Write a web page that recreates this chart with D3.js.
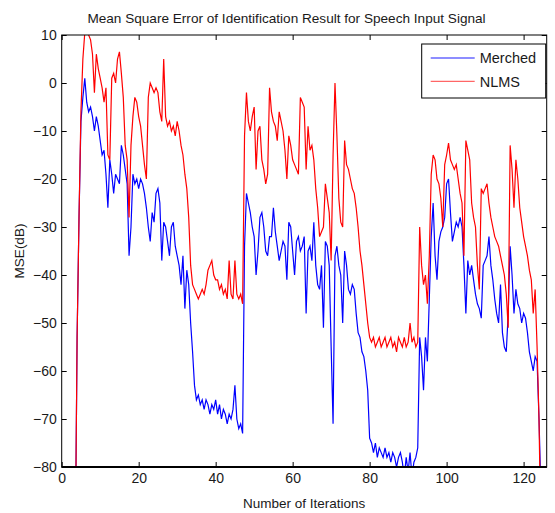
<!DOCTYPE html>
<meta charset="utf-8">
<style>

body { margin: 0; background: #fff; }
text { font-family: "Liberation Sans", Arial, sans-serif; fill: #1a1a1a; }
.line { fill: none; stroke-width: 1.2px; }
.axis text { font-size: 14px; }
.axis line { stroke: #000; }

</style>
<svg width="555" height="513"></svg>
<script src="https://cdn.jsdelivr.net/npm/d3@7/dist/d3.min.js"></script>
<script>

// samples every half iteration, first one at 3.5
var firstIter = 3.5, iterStep = 0.5;

var merched = [
  -100,
  -53, -28, -8, -3, 1, -4, -6, -5, -7, -10,
  -7, -9, -12, -15, -14, -19, -26, -16, -19, -23,
  -19, -20, -21, -13, -15, -18, -21, -36, -30, -19,
  -21, -20, -22, -20, -21, -23, -26, -30, -33, -27,
  -29, -23, -22, -25, -37, -29, -30, -33, -36, -30,
  -29, -34, -36, -38, -42, -36, -47, -39, -42, -50,
  -56, -63, -66, -65, -67, -66, -68, -66, -67, -69,
  -67, -68, -66, -69, -67, -70, -68, -69, -71, -69,
  -70, -68, -63, -70, -72, -71, -73, -34, -23, -25,
  -27, -30, -32, -40, -35, -28, -27, -30, -35, -36,
  -32, -32, -26, -31, -34, -37, -35, -33, -34, -41,
  -29, -30, -35, -40, -33, -32, -35, -34, -32, -48,
  -35, -34, -37, -29, -38, -42, -43, -38, -51, -33,
  -34, -38, -55, -71, -36, -34, -38, -40, -50, -35,
  -38, -43, -44, -42, -43, -48, -52, -53, -56, -57,
  -60, -64, -74, -75, -77, -75, -78, -76, -77, -78,
  -76, -78, -77, -79, -77, -78, -80, -78, -77, -79,
  -82, -78, -81, -77, -82, -79, -78, -76, -53, -57,
  -64, -53, -58, -45, -32, -25, -36, -41, -33, -31,
  -30, -28, -21, -20, -27, -33, -31, -29, -30, -28,
  -30, -38, -48, -37, -40, -38, -41, -44, -46, -47,
  -49, -38, -37, -36, -32, -38, -41, -45, -48, -50,
  -42, -52, -55, -56, -48, -34, -40, -48, -43, -46,
  -47, -50, -48, -49, -52, -56, -58, -60, -57, -58,
  -70, -85, -100
];

var nlms = [
  -100,
  -53, -28, -6, 5, 10.5, 11, 10, 9, 6, -2,
  6, 3, 1, -1, -4, -1, -15, -16, 1, 2,
  0, 5, 6.5, 2, -3, -13, -16, -28, -13, -7,
  -3, -4, -7, -9, -13, -17, -20, -3, 0, -1,
  -2, -1, -2, -6, -8, 5, -7, -9, -8, -10,
  -9, -11, -8, -10, -13, -15, -19, -22, -28, -38,
  -42, -43, -44, -45, -44, -43, -44, -42, -39, -38,
  -37, -40, -41, -41, -43, -42, -44, -43, -45, -37,
  -44, -45, -37, -44, -45, -44, -46, -11, -2, -8,
  -10, -7, -5, -18, -10, -9, -16, -18, -21, -19,
  -1, -6, -8, -9, -12, -6, -8, -10, -14, -20,
  -11, -13, -16, -17, -18, -19, -3, -4, -5, -18,
  -9, -14, -13, -16, -22, -26, -32, -31, -30, -21,
  -24, -27, -37, -15, 0, -11, -24, -29, -30, -12,
  -17, -18, -20, -22, -23, -26, -30, -35, -38, -42,
  -46, -50, -53, -54, -53, -55, -54, -53, -55, -54,
  -53, -55, -54, -53, -55, -54, -56, -53, -54, -55,
  -53, -55, -54, -50, -54, -53, -55, -54, -30, -38,
  -42, -40, -46, -36, -19, -15, -16, -20, -21, -24,
  -30, -17, -15, -12.5, -16, -17, -18, -17, -20, -23,
  -25, -36, -12, -14, -16, -25, -28, -30, -38, -43,
  -22, -23, -22, -21, -25, -28, -30, -32, -33, -34,
  -36, -38, -40, -44, -51, -13, -18, -26, -16, -20,
  -26, -29, -32, -34, -36, -39, -41, -48, -43, -55,
  -70, -95, -100
];

var seriesNames = ["Merched", "NLMS"];
var seriesColors = ["#0000ff", "#ff0000"];
var xTicks = [0, 20, 40, 60, 80, 100, 120];
var yTicks = [10, 0, -10, -20, -30, -40, -50, -60, -70, -80];

var svg = d3.select("svg"),
    margin = {top: 35, right: 8.3, bottom: 46, left: 61.7},
    width = svg.attr("width") - margin.left - margin.right,
    height = svg.attr("height") - margin.top - margin.bottom,
    g = svg.append("g").attr("transform", "translate(" + margin.left + "," + margin.top + ")");

var x = d3.scaleLinear().domain([0, 126]).range([0, width]),
    y = d3.scaleLinear().domain([-80, 10]).range([height, 0]);

var sets = [merched, nlms].map(function(vals, k) {
  return {
    id: seriesNames[k],
    color: seriesColors[k],
    values: vals.map(function(v, i) { return {it: firstIter + i * iterStep, mse: v}; })
  };
});

svg.append("defs").append("clipPath").attr("id", "plot")
  .append("rect").attr("width", width).attr("height", height);

var line = d3.line()
    .x(function(d) { return x(d.it); })
    .y(function(d) { return y(d.mse); });

// axes, matlab style: ticks inside, box around
g.append("g")
    .attr("class", "axis")
    .attr("transform", "translate(0," + height + ")")
    .call(d3.axisBottom(x).tickValues(xTicks).tickSizeInner(-5).tickSizeOuter(0).tickPadding(6))
    .call(function(a) { a.select(".domain").remove(); });

g.append("g")
    .attr("class", "axis")
    .call(d3.axisLeft(y).tickValues(yTicks).tickSizeInner(-5).tickSizeOuter(0).tickPadding(5))
    .call(function(a) { a.select(".domain").remove(); });

g.append("g")
    .attr("class", "axis")
    .call(d3.axisTop(x).tickValues(xTicks).tickSizeInner(-5).tickSizeOuter(0).tickFormat(""))
    .call(function(a) { a.select(".domain").remove(); });

g.append("g")
    .attr("class", "axis")
    .attr("transform", "translate(" + width + ",0)")
    .call(d3.axisRight(y).tickValues(yTicks).tickSizeInner(-5).tickSizeOuter(0).tickFormat(""))
    .call(function(a) { a.select(".domain").remove(); });

var set = g.append("g").attr("clip-path", "url(#plot)")
  .selectAll(".set")
  .data(sets)
  .enter().append("path")
    .attr("class", "line")
    .attr("d", function(d) { return line(d.values); })
    .style("stroke", function(d) { return d.color; });

g.append("rect")
    .attr("width", width)
    .attr("height", height)
    .attr("fill", "none")
    .attr("stroke", "#000")
    .attr("stroke-width", 1);
g.append("line")
    .attr("x1", 0).attr("x2", width)
    .attr("y1", height).attr("y2", height)
    .attr("stroke", "#000").attr("stroke-width", 2);

// legend
var legend = g.append("g").attr("transform", "translate(360,9)");
legend.append("rect")
    .attr("width", 124).attr("height", 54)
    .attr("fill", "#fff").attr("stroke", "#000").attr("stroke-width", 1);
var item = legend.selectAll(".item")
  .data(sets)
  .enter().append("g")
    .attr("transform", function(d, i) { return "translate(0," + (14 + i * 23.3) + ")"; });
item.append("line")
    .attr("x1", 9).attr("x2", 53)
    .attr("stroke", function(d) { return d.color; })
    .attr("stroke-width", 1.3)
    .attr("stroke-opacity", 0.6);
item.append("text")
    .attr("x", 58)
    .attr("dy", "0.36em")
    .style("font-size", "14.5px")
    .text(function(d) { return d.id; });

svg.append("text")
    .attr("x", 286.5)
    .attr("y", 23)
    .attr("text-anchor", "middle")
    .style("font-size", "13.6px")
    .text("Mean Square Error of Identification Result for Speech Input Signal");

svg.append("text")
    .attr("x", margin.left + width / 2)
    .attr("y", 508)
    .attr("text-anchor", "middle")
    .style("font-size", "13.5px")
    .text("Number of Iterations");

svg.append("text")
    .attr("transform", "translate(24," + (margin.top + height / 2) + ") rotate(-90)")
    .attr("text-anchor", "middle")
    .style("font-size", "13.5px")
    .text("MSE(dB)");

</script>
